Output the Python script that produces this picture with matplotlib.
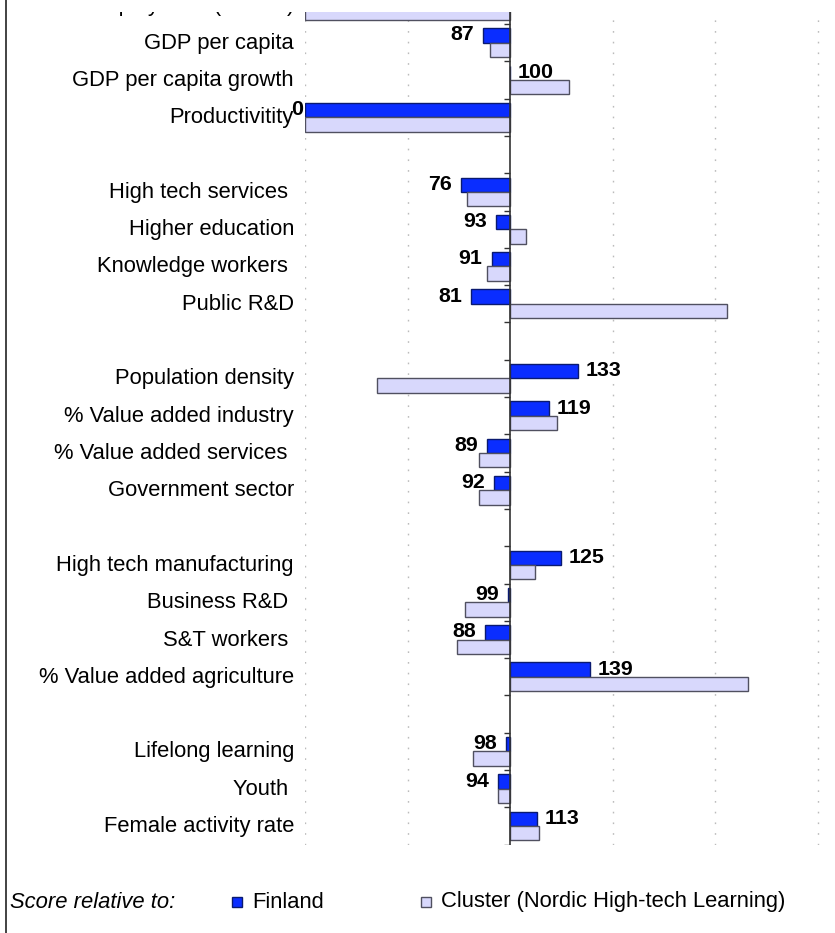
import numpy as np
import matplotlib
matplotlib.use("Agg")
import matplotlib.pyplot as plt
from matplotlib.patches import Rectangle
from matplotlib.lines import Line2D
from matplotlib.transforms import ScaledTranslation

plt.rcParams['font.family'] = ['Liberation Sans', 'DejaVu Sans']

# ---- data ----
labels = ["Unemployment (female)", "GDP per capita", "GDP per capita growth", "Productivitity", "",
          "High tech services ", "Higher education", "Knowledge workers ", "Public R&D", "",
          "Population density", "% Value added industry", "% Value added services ", "Government sector", "",
          "High tech manufacturing", "Business R&D ", "S&T workers ", "% Value added agriculture", "",
          "Lifelong learning", "Youth ", "Female activity rate"]
finland = [np.nan, 87, 100, 0, np.nan,
           76, 93, 91, 81, np.nan,
           133, 119, 89, 92, np.nan,
           125, 99, 88, 139, np.nan,
           98, 94, 113]
cluster = [0, 90, 129, 0, np.nan,
           79, 108, 89, 206, np.nan,
           35, 123, 85, 85, np.nan,
           112, 78, 74, 216, np.nan,
           82, 94, 114]
legend_labels = ["Finland", "Cluster (Nordic High-tech Learning)"]
legend_title = "Score relative to:"
baseline = 100
grid_values = [0, 50, 150, 200, 250]

# ---- style ----
W, H = 835, 933
DPI = 100
blue = '#0A2DFF'
blue_edge = '#0A1A70'
light = '#D8D8FC'
light_edge = '#505060'
fs_lab = 15.8
fs_val = 15.4

fig = plt.figure(figsize=(W / DPI, H / DPI), dpi=DPI)
n = len(labels)
ax_left, ax_right = 305 / W, 827.75 / W
ax_top = 1 + 13.3 / H
ax_bot = 1 - 844.7 / H
ax = fig.add_axes([ax_left, ax_bot, ax_right - ax_left, ax_top - ax_bot])

y = np.arange(n)
fin = np.array(finland, dtype=float)
clu = np.array(cluster, dtype=float)
h = 0.385

ax.barh(y - h / 2, fin - baseline, left=baseline, height=h, color=blue,
        edgecolor=blue_edge, linewidth=1.0, zorder=3)
ax.barh(y + h / 2, clu - baseline, left=baseline, height=h, color=light,
        edgecolor=light_edge, linewidth=1.0, zorder=3)

ax.set_xlim(0, 255)
ax.set_ylim(n - 0.5, -0.5)

for gv in grid_values:
    ax.axvline(gv, color='#BBBBBB', lw=1.0, linestyle=(0, (1.2, 6.5)), zorder=1)
ax.axvline(baseline, color='#333333', lw=1.2, zorder=4)
bounds = np.arange(-0.5, n + 0.5, 1.0)
ax.hlines(bounds, baseline - 3, baseline, color='#333333', lw=1.0, zorder=4)

for s in ax.spines.values():
    s.set_visible(False)
ax.set_xticks([])
ax.set_yticks(y)
ax.set_yticklabels(labels, fontsize=fs_lab)
ax.tick_params(axis='y', length=0, pad=8)
shift = ScaledTranslation(0, 2.0 / DPI, fig.dpi_scale_trans)
for lab in ax.get_yticklabels():
    lab.set_transform(lab.get_transform() + shift)

# value labels
for yi, v in zip(y, fin):
    if np.isnan(v):
        continue
    yc = yi - h / 2
    if v < baseline:
        dx = -6.5 if v > ax.get_xlim()[0] else -1.0
        ha = 'right'
    else:
        dx = 5.5
        ha = 'left'
    ax.annotate(f"{int(v)}", (v, yc), xytext=(dx, -3.6), textcoords='offset points',
                ha=ha, va='baseline', fontsize=fs_val, fontweight='bold', zorder=5)

# white mask on top & left border
fig.add_artist(Rectangle((7 / W, 1 - 12 / H), 1, 12 / H, transform=fig.transFigure,
                         facecolor='white', edgecolor='none', zorder=50))
fig.add_artist(Line2D([5.5 / W, 5.5 / W], [0, 1], transform=fig.transFigure,
                      color='#222222', lw=1.2, zorder=60))

# legend
ly = 1 - 902 / H
fig.text(10 / W, ly, legend_title, style='italic', fontsize=fs_lab, va='center')
sq = 10
for x0, txt, fc, ec in [(232, legend_labels[0], blue, blue_edge),
                        (421, legend_labels[1], light, light_edge)]:
    fig.add_artist(Rectangle((x0 / W, ly - sq / 2 / H), sq / W, sq / H, transform=fig.transFigure,
                             facecolor=fc, edgecolor=ec, lw=1.0))
    fig.text((x0 + 20) / W, ly, txt, fontsize=fs_lab, va='center')

fig.savefig("out.png", dpi=DPI)
